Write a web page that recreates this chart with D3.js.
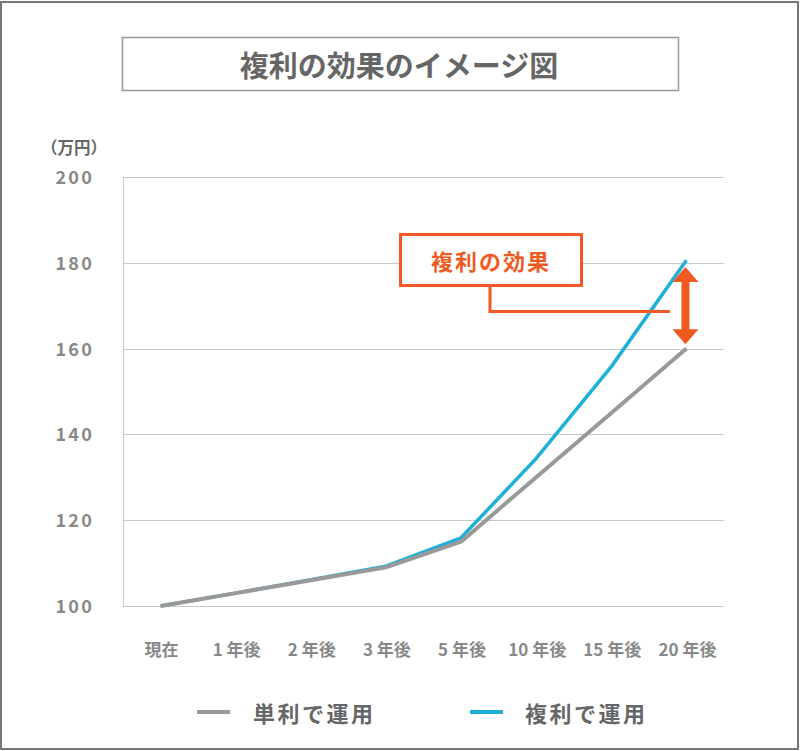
<!DOCTYPE html>
<html><head><meta charset="utf-8">
<script src="https://cdn.jsdelivr.net/npm/d3@7"></script>
<style>
html,body{margin:0;padding:0;background:#fff;}
svg{display:block;font-family:"Noto Sans CJK JP","Noto Sans",sans-serif;}
</style></head>
<body><svg id="c" width="800" height="751"></svg>
<script>
const categories = ["現在","1 年後","2 年後","3 年後","5 年後","10 年後","15 年後","20 年後"];
const simpleValues = [100,103,106,109,115,130,145,160];
const compoundValues = [100,103,106.1,109.3,115.9,134.4,155.8,180.6];
const yTicks = [100,120,140,160,180,200];
const seriesNames = ["単利で運用","複利で運用"];
const title = "複利の効果のイメージ図";
const unitLabel = "（万円）";
const calloutText = "複利の効果";
const arrowRange = [161, 179];

const svg = d3.select("#c");
const gray = "#999999", blue = "#1eb0d8", orange = "#f05a22", textGray = "#666666", tickGray = "#888888";

svg.append("rect").attr("x",1).attr("y",2).attr("width",797).attr("height",747)
  .attr("fill","#fff").attr("stroke","#777").attr("stroke-width",2);

// title
svg.append("rect").attr("x",122.5).attr("y",37.5).attr("width",556).attr("height",53)
  .attr("fill","#fff").attr("stroke","#999").attr("stroke-width",1.5);
svg.append("text").attr("x",399).attr("y",64).attr("text-anchor","middle").attr("dominant-baseline","central")
  .attr("font-size",29).attr("font-weight","bold").attr("fill",textGray).text(title);

const x = d3.scalePoint().domain(categories).range([123,724]).padding(0.5);
const y = d3.scaleLinear().domain([100,200]).range([606,177]);

// grid
svg.append("g").selectAll("line").data(yTicks).join("line")
  .attr("x1",123).attr("x2",724).attr("y1",d=>Math.round(y(d))+0.5).attr("y2",d=>Math.round(y(d))+0.5)
  .attr("stroke","#c8c8c8").attr("stroke-width",1);
svg.append("line").attr("x1",123.5).attr("x2",123.5).attr("y1",y(200)).attr("y2",y(100)+1)
  .attr("stroke","#c8c8c8").attr("stroke-width",1);

// y labels
svg.append("g").selectAll("text").data(yTicks).join("text")
  .attr("x",94).attr("y",d=>y(d)-1).attr("text-anchor","end").attr("dominant-baseline","central")
  .attr("font-size",18).attr("font-weight","bold").attr("letter-spacing",2.2).attr("fill",tickGray)
  .text(d=>d);
svg.append("text").attr("x",74).attr("y",147).attr("text-anchor","middle").attr("dominant-baseline","central")
  .attr("font-size",16.5).attr("font-weight","bold").attr("fill",textGray).text(unitLabel);

// x labels
svg.append("g").selectAll("text").data(categories).join("text")
  .attr("x",d=>x(d)+1).attr("y",648).attr("text-anchor","middle").attr("dominant-baseline","central")
  .attr("font-size",17).attr("font-weight","bold").attr("fill",tickGray).text(d=>d);

const line = d3.line().x((d,i)=>x(categories[i])).y(d=>y(d));
svg.append("path").datum(compoundValues).attr("d",line).attr("fill","none")
  .attr("stroke",blue).attr("stroke-width",3.5).attr("stroke-linejoin","round");
svg.append("path").datum(simpleValues).attr("d",line).attr("fill","none")
  .attr("stroke",gray).attr("stroke-width",4).attr("stroke-linejoin","round");

// callout
const ax = x(categories[categories.length-1]) - 1;
const yTop = y(arrowRange[1]), yBot = y(arrowRange[0]);
const headH = 15, headW = 13, shaftW = 4;
svg.append("path").attr("fill",orange).attr("d",
  `M${ax},${yTop} L${ax+headW},${yTop+headH} L${ax+shaftW},${yTop+headH} L${ax+shaftW},${yBot-headH} L${ax+headW},${yBot-headH} L${ax},${yBot} L${ax-headW},${yBot-headH} L${ax-shaftW},${yBot-headH} L${ax-shaftW},${yTop+headH} L${ax-headW},${yTop+headH} Z`);
svg.append("polyline").attr("points",`490,287 490,311.5 670,311.5`).attr("fill","none")
  .attr("stroke",orange).attr("stroke-width",3);
svg.append("rect").attr("x",400.5).attr("y",234.5).attr("width",181).attr("height",51)
  .attr("fill","#fff").attr("stroke",orange).attr("stroke-width",3);
svg.append("text").attr("x",491).attr("y",260).attr("text-anchor","middle").attr("dominant-baseline","central")
  .attr("font-size",22).attr("font-weight","bold").attr("letter-spacing",2).attr("fill",orange).text(calloutText);

// legend
const legend = [{name:seriesNames[0],color:gray,x0:197,x1:230,tx:253},{name:seriesNames[1],color:blue,x0:470,x1:503,tx:525}];
const lg = svg.append("g").selectAll("g").data(legend).join("g");
lg.append("line").attr("x1",d=>d.x0).attr("x2",d=>d.x1).attr("y1",712).attr("y2",712)
  .attr("stroke",d=>d.color).attr("stroke-width",4);
lg.append("text").attr("x",d=>d.tx).attr("y",712).attr("dominant-baseline","central")
  .attr("font-size",22).attr("font-weight","bold").attr("letter-spacing",2.5).attr("fill",textGray).text(d=>d.name);
</script></body></html>
